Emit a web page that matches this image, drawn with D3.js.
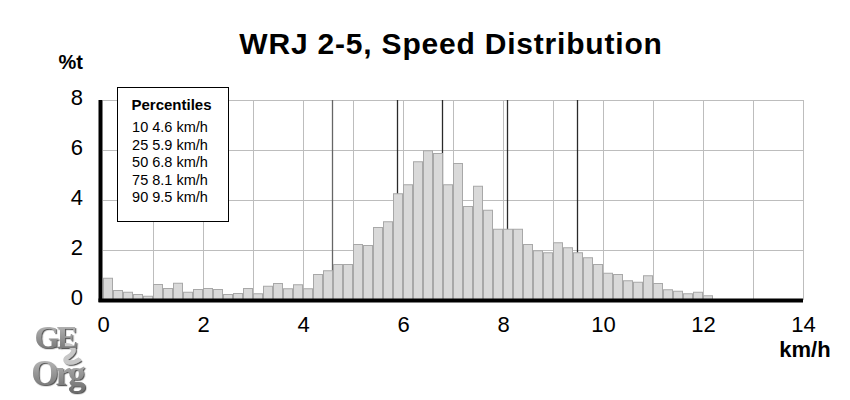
<!DOCTYPE html>
<html>
<head>
<meta charset="utf-8">
<script src="https://cdn.jsdelivr.net/npm/d3@7"></script>
<style>
  html, body { margin: 0; padding: 0; background: #fff; }
  svg { display: block; font-family: "Liberation Sans", Arial, sans-serif; }
</style>
</head>
<body>
<svg id="chart" width="850" height="400"></svg>
<script>
// ---- data ----
const binStarts = [0.0,0.2,0.4,0.6,0.8,1.0,1.2,1.4,1.6,1.8,2.0,2.2,2.4,2.6,2.8,3.0,3.2,3.4,3.6,3.8,
  4.0,4.2,4.4,4.6,4.8,5.0,5.2,5.4,5.6,5.8,6.0,6.2,6.4,6.6,6.8,7.0,7.2,7.4,7.6,7.8,
  8.0,8.2,8.4,8.6,8.8,9.0,9.2,9.4,9.6,9.8,10.0,10.2,10.4,10.6,10.8,11.0,11.2,11.4,11.6,11.8,12.0];
const binWidth = 0.2;
const percentTime = [0.89,0.40,0.33,0.24,0.17,0.64,0.48,0.69,0.33,0.44,0.48,0.44,0.24,0.28,0.48,0.27,0.57,0.68,0.47,0.63,
  0.47,1.04,1.19,1.44,1.44,2.24,2.20,2.92,3.15,4.27,4.63,5.55,5.99,5.88,4.63,5.48,3.76,4.57,3.61,2.85,
  2.85,2.85,2.24,1.99,1.91,2.31,2.11,1.91,1.71,1.44,1.09,1.04,0.79,0.73,0.99,0.68,0.43,0.37,0.27,0.33,0.19];
const percentileLevels = [10, 25, 50, 75, 90];
const percentileSpeeds = [4.6, 5.9, 6.8, 8.1, 9.5];
const xTicks = [0, 2, 4, 6, 8, 10, 12, 14];
const xGrid = [1,2,3,4,5,6,7,8,9,10,11,12,13,14];
const yTicks = [0, 2, 4, 6, 8];
const yGrid = [2, 4, 6, 8];
const titleText = "WRJ 2-5, Speed Distribution";
const yUnit = "%t";
const xUnit = "km/h";

// ---- chart ----
const svg = d3.select("#chart");
const x = d3.scaleLinear().domain([0, 14]).range([103, 803]);
const y = d3.scaleLinear().domain([0, 8]).range([300, 100]);

// grid
svg.append("g").selectAll("line").data(xGrid).join("line")
  .attr("x1", d => x(d) + 0.5).attr("x2", d => x(d) + 0.5)
  .attr("y1", y(8)).attr("y2", y(0))
  .attr("stroke", "#bdbdbd").attr("stroke-width", 1);
svg.append("g").selectAll("line").data(yGrid).join("line")
  .attr("x1", x(0)).attr("x2", x(14))
  .attr("y1", d => y(d) + 0.5).attr("y2", d => y(d) + 0.5)
  .attr("stroke", "#bdbdbd").attr("stroke-width", 1);

// percentile lines (behind bars)
svg.append("g").selectAll("line").data(percentileSpeeds).join("line")
  .attr("x1", d => x(d) - 0.5).attr("x2", d => x(d) - 0.5)
  .attr("y1", y(8)).attr("y2", y(0))
  .attr("stroke", (d, i) => i === 0 ? "#666" : "#2a2a2a").attr("stroke-width", 1.3);

// bars
svg.append("g").selectAll("rect").data(binStarts).join("rect")
  .attr("x", d => x(d) + 0.5)
  .attr("width", d => x(d + binWidth) - x(d) - 1)
  .attr("y", (d, i) => y(percentTime[i]) + 0.5)
  .attr("height", (d, i) => Math.max(0, y(0) - y(percentTime[i]) - 0.5))
  .attr("fill", "#d9d9d9").attr("stroke", "#a8a8a8").attr("stroke-width", 1);

// axes lines (thick black)
svg.append("line").attr("x1", 100.5).attr("x2", 100.5).attr("y1", y(8)).attr("y2", 302)
  .attr("stroke", "#000").attr("stroke-width", 4);
svg.append("line").attr("x1", 98.5).attr("x2", x(14)).attr("y1", 300.5).attr("y2", 300.5)
  .attr("stroke", "#000").attr("stroke-width", 4);

// axis tick labels via d3 axes (domain/ticks hidden)
const xAxis = d3.axisBottom(x).tickValues(xTicks).tickFormat(d3.format("d")).tickSize(0).tickPadding(0);
const gx = svg.append("g").attr("transform", "translate(0,316)").call(xAxis);
gx.select(".domain").remove();
gx.selectAll("text").attr("font-size", 22).attr("fill", "#000")
  .attr("font-family", "Liberation Sans, Arial, sans-serif").attr("dy", "0.71em");

const yAxis = d3.axisLeft(y).tickValues(yTicks).tickFormat(d3.format("d")).tickSize(0).tickPadding(0);
const gy = svg.append("g").attr("transform", "translate(83,0)").call(yAxis);
gy.select(".domain").remove();
gy.selectAll("text").attr("font-size", 22).attr("fill", "#000")
  .attr("font-family", "Liberation Sans, Arial, sans-serif").attr("dy", "0.2em");

// title
svg.append("text").attr("x", 451).attr("y", 54).attr("text-anchor", "middle")
  .attr("font-size", 30).attr("font-weight", "bold").attr("letter-spacing", 0.8).text(titleText);

// unit labels
svg.append("text").attr("x", 83).attr("y", 69).attr("text-anchor", "end")
  .attr("font-size", 20).attr("font-weight", "bold").text(yUnit);
svg.append("text").attr("x", 805).attr("y", 357).attr("text-anchor", "middle")
  .attr("font-size", 22).attr("font-weight", "bold").text(xUnit);

// legend box
const lg = svg.append("g");
lg.append("rect").attr("x", 117.5).attr("y", 87.5).attr("width", 111).attr("height", 134)
  .attr("fill", "#fff").attr("stroke", "#000").attr("stroke-width", 1);
lg.append("text").attr("x", 171.5).attr("y", 110).attr("text-anchor", "middle")
  .attr("font-size", 15).attr("font-weight", "bold").text("Percentiles");
lg.selectAll("text.row").data(percentileLevels).join("text").attr("class", "row")
  .attr("x", 170).attr("y", (d, i) => 132 + i * 17.5).attr("text-anchor", "middle")
  .attr("font-size", 14.5).text((d, i) => d + " " + percentileSpeeds[i] + " km/h");

// logo
const defs = svg.append("defs");
const grad = defs.append("linearGradient").attr("id", "lg1").attr("x1", 0).attr("y1", 0).attr("x2", 0).attr("y2", 1);
grad.append("stop").attr("offset", "0%").attr("stop-color", "#c4c4c4");
grad.append("stop").attr("offset", "100%").attr("stop-color", "#6a6a6a");
const filt = defs.append("filter").attr("id", "sh").attr("x", "-20%").attr("y", "-20%").attr("width", "140%").attr("height", "140%");
filt.append("feDropShadow").attr("dx", 1.2).attr("dy", 1.2).attr("stdDeviation", 0.6).attr("flood-color", "#333").attr("flood-opacity", 0.8);
const logo = svg.append("g").attr("font-family", "Liberation Serif, DejaVu Serif, serif").attr("font-weight", "bold")
  .attr("filter", "url(#sh)");
logo.append("path").attr("d", "M60,346 C74,343 78,351 68,357 C61,361 70,366 80,359")
  .attr("fill", "none").attr("stroke", "#c8c8c8").attr("stroke-width", 4.5);
logo.append("text").attr("x", 55).attr("y", 348).attr("text-anchor", "middle").attr("font-size", 32)
  .attr("fill", "url(#lg1)").attr("letter-spacing", -2.5).text("GE");
logo.append("text").attr("x", 57).attr("y", 385).attr("text-anchor", "middle").attr("font-size", 35)
  .attr("fill", "url(#lg1)").attr("letter-spacing", -3).text("Org");
</script>
</body>
</html>
